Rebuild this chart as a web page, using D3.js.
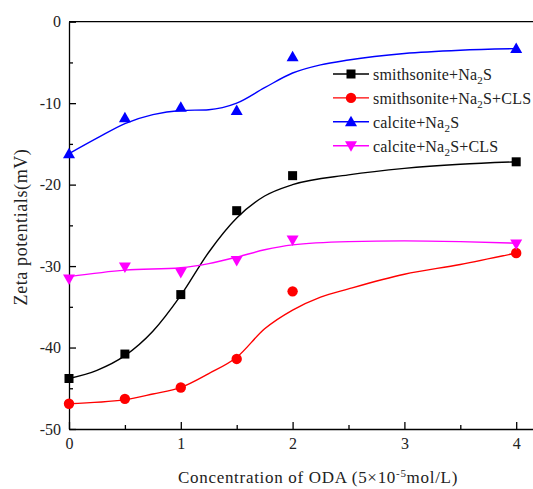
<!DOCTYPE html>
<html><head><meta charset="utf-8">
<script src="https://cdn.jsdelivr.net/npm/d3@7"></script>
<style>
html,body{margin:0;padding:0;background:#fff;}
svg{display:block;}
text{font-family:"Liberation Serif","Times New Roman",serif;fill:#222;}
</style></head>
<body><div id="chart"></div>
<script>
// ---- data ----
const concentrations = [0, 0.5, 1, 1.5, 2, 4];
const smithsoniteNa2S = [-43.8, -40.8, -33.5, -23.2, -18.9, -17.2];
const smithsoniteNa2SCLS = [-46.9, -46.3, -44.9, -41.4, -33.1, -28.4];
const calciteNa2S = [-16.2, -11.8, -10.5, -10.9, -4.3, -3.3];
const calciteNa2SCLS = [-31.6, -30.1, -30.8, -29.3, -26.8, -27.3];

// fitted curves
const fitBlackX = [0, 0.25, 0.5, 0.75, 1.0, 1.25, 1.5, 1.75, 2.0, 2.5, 3.0, 3.5, 4.0];
const fitBlackY = [-43.8, -42.8, -41.0, -38.0, -33.6, -28.3, -24.1, -21.4, -20.0, -18.8, -18.0, -17.5, -17.2];
const fitRedX = [0, 0.5, 0.75, 1.0, 1.25, 1.5, 1.75, 2.0, 2.25, 2.5, 3.0, 3.5, 4.0];
const fitRedY = [-46.9, -46.4, -45.7, -44.9, -43.2, -41.2, -37.7, -35.4, -33.8, -32.8, -31.0, -29.8, -28.4];
const fitBlueX = [0, 0.25, 0.5, 0.75, 1.0, 1.25, 1.5, 1.75, 2.0, 2.25, 2.5, 3.0, 3.5, 4.0];
const fitBlueY = [-16.2, -14.3, -12.5, -11.4, -10.9, -10.8, -10.0, -8.1, -6.3, -5.3, -4.7, -3.9, -3.5, -3.3];
const fitMagX = [0, 0.5, 1.0, 1.25, 1.5, 1.75, 2.0, 2.5, 3.0, 3.5, 4.0];
const fitMagY = [-31.3, -30.5, -30.2, -29.7, -28.9, -28.0, -27.4, -27.0, -26.9, -27.0, -27.2];

const xTicks = [0, 1, 2, 3, 4];
const xMinorTicks = [0.5, 1.5, 2.5, 3.5];
const yTicks = [0, -10, -20, -30, -40, -50];
const yMinorTicks = [-5, -15, -25, -35, -45];

const seriesNames = ["smithsonite+Na|2|S", "smithsonite+Na|2|S+CLS", "calcite+Na|2|S", "calcite+Na|2|S+CLS"];
const seriesColors = ["#000000", "#ff0000", "#0000ff", "#ff00ff"];
const seriesSymbols = ["square", "circle", "triangle", "triangleDown"];

// ---- layout ----
const W = 533, H = 489;
const svg = d3.select("#chart").append("svg").attr("width", W).attr("height", H);
const x = d3.scaleLinear().domain([0, 4.2]).range([69, 69 + 4.2 * 111.8]);
const y = d3.scaleLinear().domain([-50, 0]).range([429, 21.7]);

// frame top line
svg.append("line").attr("x1", x(0)).attr("x2", x(4.2)).attr("y1", y(0)).attr("y2", y(0))
  .attr("stroke", "#000").attr("stroke-width", 1.3);

function styleAxis(g) {
  g.select(".domain").attr("stroke", "#000").attr("stroke-width", 1.3);
  g.selectAll(".tick line").attr("stroke", "#000").attr("stroke-width", 1.3);
  g.selectAll(".tick text").attr("font-family", "Liberation Serif").attr("font-size", 16).attr("fill", "#222");
}

const gx = svg.append("g").attr("transform", `translate(0,${y(-50)})`)
  .call(d3.axisBottom(x).tickValues(xTicks).tickSize(-7).tickSizeOuter(0).tickPadding(9).tickFormat(d => String(d)));
styleAxis(gx);
const gx2 = svg.append("g").attr("transform", `translate(0,${y(-50)})`)
  .call(d3.axisBottom(x).tickValues(xMinorTicks).tickSize(-4).tickSizeOuter(0).tickFormat(""));
styleAxis(gx2);
gx2.select(".domain").remove();

const gy = svg.append("g").attr("transform", `translate(${x(0)},0)`)
  .call(d3.axisLeft(y).tickValues(yTicks).tickSize(-7).tickSizeOuter(0).tickPadding(8).tickFormat(d => String(d)));
styleAxis(gy);
const gy2 = svg.append("g").attr("transform", `translate(${x(0)},0)`)
  .call(d3.axisLeft(y).tickValues(yMinorTicks).tickSize(-4).tickSizeOuter(0).tickFormat(""));
styleAxis(gy2);
gy2.select(".domain").remove();

// axis titles
svg.append("text").attr("transform", `translate(27,${227}) rotate(-90)`)
  .attr("text-anchor", "middle").attr("font-size", 18).attr("letter-spacing", 0.6)
  .text("Zeta potentials(mV)");
const xt = svg.append("text").attr("x", 318).attr("y", 483).attr("text-anchor", "middle")
  .attr("font-size", 17).attr("letter-spacing", 0.7);
xt.append("tspan").text("Concentration of ODA (5×10");
xt.append("tspan").attr("font-size", 11).attr("baseline-shift", "super").text("-5");
xt.append("tspan").text("mol/L)");

// curves
const line = d3.line().x(d => x(d[0])).y(d => y(d[1])).curve(d3.curveMonotoneX);
const fits = [
  d3.zip(fitBlackX, fitBlackY),
  d3.zip(fitRedX, fitRedY),
  d3.zip(fitBlueX, fitBlueY),
  d3.zip(fitMagX, fitMagY)
];
fits.forEach((f, i) => {
  svg.append("path").datum(f).attr("d", line).attr("fill", "none")
    .attr("stroke", seriesColors[i]).attr("stroke-width", 1.4);
});

function drawSymbol(g, type, cx, cy, color) {
  if (type === "square") {
    g.append("rect").attr("x", cx - 4.5).attr("y", cy - 4.5).attr("width", 9).attr("height", 9).attr("fill", color);
  } else if (type === "circle") {
    g.append("circle").attr("cx", cx).attr("cy", cy).attr("r", 5.2).attr("fill", color);
  } else if (type === "triangle") {
    g.append("path").attr("d", `M${cx},${cy - 6}L${cx + 6},${cy + 4.5}L${cx - 6},${cy + 4.5}Z`).attr("fill", color);
  } else {
    g.append("path").attr("d", `M${cx},${cy + 6}L${cx + 6},${cy - 4.5}L${cx - 6},${cy - 4.5}Z`).attr("fill", color);
  }
}

const allSeries = [smithsoniteNa2S, smithsoniteNa2SCLS, calciteNa2S, calciteNa2SCLS];
const markG = svg.append("g");
allSeries.forEach((vals, i) => {
  vals.forEach((v, j) => drawSymbol(markG, seriesSymbols[i], x(concentrations[j]), y(v), seriesColors[i]));
});

// legend
const lg = svg.append("g");
seriesNames.forEach((name, i) => {
  const cy = 74 + i * 23.9;
  lg.append("line").attr("x1", 333).attr("x2", 369).attr("y1", cy).attr("y2", cy)
    .attr("stroke", seriesColors[i]).attr("stroke-width", 1.4);
  drawSymbol(lg, seriesSymbols[i], 351, cy, seriesColors[i]);
  const parts = name.split("|");
  const t = lg.append("text").attr("x", 373).attr("y", cy + 6).attr("font-size", 16).attr("letter-spacing", 0.2);
  t.append("tspan").text(parts[0]);
  t.append("tspan").attr("font-size", 11).attr("dy", 4).text(parts[1]);
  t.append("tspan").attr("dy", -4).text(parts[2]);
});
</script>
</body></html>
